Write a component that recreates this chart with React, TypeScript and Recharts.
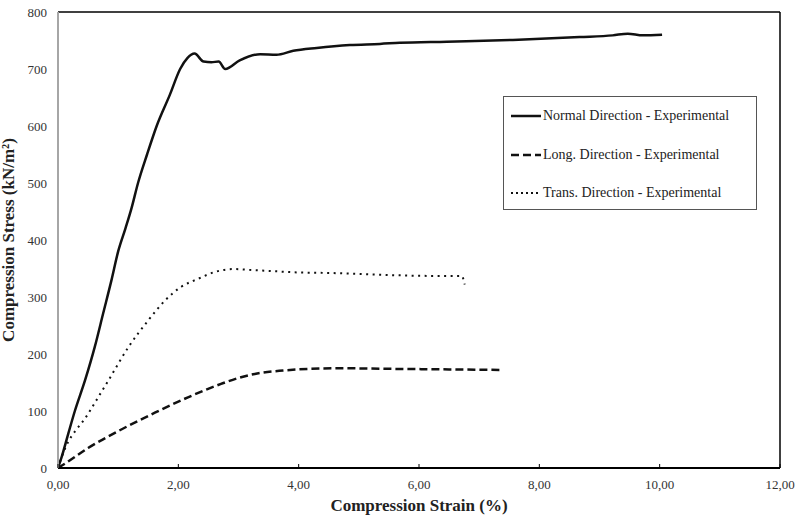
import React from 'react';
import {
  LineChart,
  Line,
  XAxis,
  YAxis,
  Legend,
  ReferenceLine,
} from 'recharts';

// Normal direction test
const normalStrain = [
  0, 0.06, 0.17, 0.28, 0.45, 0.61, 0.75, 0.89, 1.0, 1.12, 1.22, 1.33, 1.48, 1.64,
  1.86, 2.03, 2.15, 2.27, 2.42, 2.55, 2.67, 2.78, 3.02, 3.36, 3.63, 3.91, 4.3, 4.85,
  5.35, 5.68, 6.46, 7.56, 8.67, 9.22, 9.47, 9.72, 10.04,
];
const normalStress = [
  0, 19, 60, 100, 154, 212, 271, 330, 380, 420, 455, 500, 550, 600,
  655, 700, 719, 727, 713, 712, 713, 700, 715, 726, 725, 732, 737, 742,
  744, 746, 748, 751, 756, 759, 762, 759, 760,
];

// Longitudinal direction test
const longStrain = [0, 0.12, 0.5, 1.06, 1.61, 2.16, 2.72, 3.0, 3.27, 3.74, 4.2, 4.68, 5.5, 6.5, 7.38];
const longStress = [0, 8, 35, 68, 97, 124, 148, 158, 165, 171, 174, 175, 174, 173, 172];

// Transverse direction test
const transStrain = [
  0, 0.06, 0.5, 0.84, 1.17, 1.5, 1.78, 2.05, 2.33, 2.61, 2.91, 3.27, 3.47, 4.0,
  4.57, 5.1, 5.68, 6.2, 6.71, 6.76,
];
const transStress = [
  0, 19, 95, 154, 212, 259, 294, 318, 332, 344, 349, 347, 346, 343,
  342, 340, 338, 337, 337, 322,
];

const strainTicks = [0, 2, 4, 6, 8, 10, 12];
const stressTicks = [0, 100, 200, 300, 400, 500, 600, 700, 800];

const toPoints = (xs: number[], ys: number[]) => xs.map((x, i) => ({ strain: x, stress: ys[i] }));

const normalData = toPoints(normalStrain, normalStress);
const longData = toPoints(longStrain, longStress);
const transData = toPoints(transStrain, transStress);

const FONT = '"Liberation Serif", "Times New Roman", serif';

const legendItems = [
  { label: 'Normal Direction - Experimental', dash: undefined, width: 2.5 },
  { label: 'Long. Direction - Experimental', dash: '8 4', width: 2.5 },
  { label: 'Trans. Direction - Experimental', dash: '2 3', width: 2 },
];

const StrainTick = ({ x, y, payload }: any) => (
  <g>
    <line x1={x} x2={x} y1={y - 4} y2={y} stroke="#000" strokeWidth={1} />
    <text x={x} y={y + 21} textAnchor="middle" fontSize={13} fontFamily={FONT} fill="#333">
      {payload.value.toFixed(2).replace('.', ',')}
    </text>
  </g>
);

const StressTick = ({ x, y, payload }: any) => (
  <text x={x - 11} y={y + 4.5} textAnchor="end" fontSize={13} fontFamily={FONT} fill="#333">
    {payload.value}
  </text>
);

const renderLegend = () => (
  <div
    style={{
      position: 'relative',
      width: 252,
      height: 112,
      border: '1px solid #555',
      background: '#fff',
      fontFamily: FONT,
      fontSize: 14,
      color: '#222',
      boxSizing: 'content-box',
    }}
  >
    {legendItems.map((item, i) => (
      <div
        key={item.label}
        style={{ position: 'absolute', left: 6, top: 11 + i * 38.5, display: 'flex', alignItems: 'center' }}
      >
        <svg width={32} height={16}>
          <line
            x1={1}
            x2={31}
            y1={8}
            y2={8}
            stroke="#111"
            strokeWidth={item.width}
            strokeDasharray={item.dash}
          />
        </svg>
        <span style={{ marginLeft: 1, whiteSpace: 'nowrap' }}>{item.label}</span>
      </div>
    ))}
  </div>
);

export default function App() {
  return (
    <div style={{ position: 'fixed', left: 0, top: 0, width: 797, height: 516, background: '#fff' }}>
      <LineChart width={797} height={516} margin={{ top: 12, right: 17, left: 0, bottom: 0 }}>
        <XAxis
          type="number"
          dataKey="strain"
          domain={[0, 12]}
          ticks={strainTicks}
          allowDataOverflow
          height={48}
          tickSize={0}
          tickMargin={0}
          tickLine={false}
          tick={<StrainTick />}
          axisLine={{ stroke: '#000', strokeWidth: 2.2 }}
          label={{
            value: 'Compression Strain (%)',
            position: 'insideBottom',
            offset: 5,
            style: { fontFamily: FONT, fontSize: 17, fontWeight: 'bold', fill: '#222' },
          }}
        />
        <YAxis
          type="number"
          dataKey="stress"
          domain={[0, 800]}
          ticks={stressTicks}
          width={58}
          tickSize={0}
          tickMargin={0}
          tickLine={false}
          tick={<StressTick />}
          axisLine={{ stroke: '#a6a6a6', strokeWidth: 2 }}
          label={{
            value: 'Compression Stress (kN/m²)',
            angle: -90,
            position: 'insideLeft',
            offset: 8,
            style: { textAnchor: 'middle', fontFamily: FONT, fontSize: 17, fontWeight: 'bold', fill: '#222' },
          }}
        />
        {/* plot frame: top and right edges */}
        <ReferenceLine y={800} stroke="#000" strokeWidth={1.5} />
        <ReferenceLine x={12} stroke="#000" strokeWidth={1.5} />
        <Legend
          content={renderLegend}
          layout="vertical"
          align="center"
          verticalAlign="middle"
          wrapperStyle={{ left: 503, top: 96, width: 254, height: 114 }}
        />
        <Line
          data={normalData}
          dataKey="stress"
          type="monotone"
          stroke="#111"
          strokeWidth={2.5}
          dot={false}
          isAnimationActive={false}
        />
        <Line
          data={longData}
          dataKey="stress"
          type="monotone"
          stroke="#111"
          strokeWidth={2.5}
          strokeDasharray="8 4"
          dot={false}
          isAnimationActive={false}
        />
        <Line
          data={transData}
          dataKey="stress"
          type="monotone"
          stroke="#111"
          strokeWidth={2}
          strokeDasharray="2 4.5"
          dot={false}
          isAnimationActive={false}
        />
      </LineChart>
    </div>
  );
}
